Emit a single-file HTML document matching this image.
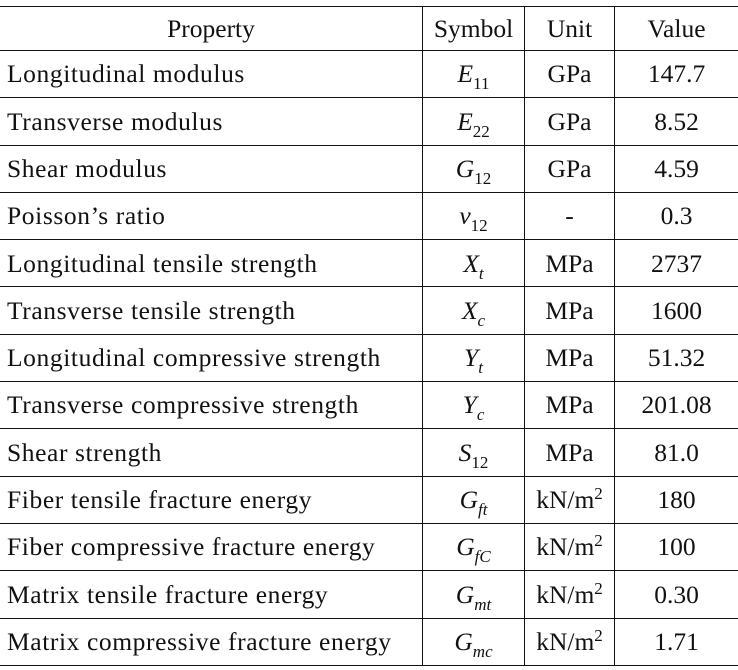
<!DOCTYPE html>
<html><head><style>
body{margin:0;background:#fff;width:738px;height:670px;overflow:hidden;font-family:"Liberation Serif",serif;color:#111}
table{position:absolute;top:6px;left:0;width:738px;border-collapse:collapse;font-size:25.5px}
td{border-top:1.5px solid #111;border-bottom:1.5px solid #111;height:46.3px;padding:0;text-align:center;line-height:1;white-space:nowrap}
td:first-child{text-align:left;padding-left:7px;width:415px;letter-spacing:0.6px}
td:nth-child(2){border-left:1.5px solid #111;border-right:1.5px solid #111;width:101px}
td:nth-child(3){border-right:1.5px solid #111;width:89px}
tr:first-child td{height:43px}
tr:first-child td:first-child{text-align:center;padding-left:0;letter-spacing:0}
i{font-style:italic}
sub{font-size:17px;vertical-align:-7px;line-height:0}
sup{font-size:17px;vertical-align:9px;line-height:0}
</style></head><body>
<table>
<tr><td>Property</td><td>Symbol</td><td>Unit</td><td>Value</td></tr>
<tr><td>Longitudinal modulus</td><td><i>E</i><sub>11</sub></td><td>GPa</td><td>147.7</td></tr>
<tr><td>Transverse modulus</td><td><i>E</i><sub>22</sub></td><td>GPa</td><td>8.52</td></tr>
<tr><td>Shear modulus</td><td><i>G</i><sub>12</sub></td><td>GPa</td><td>4.59</td></tr>
<tr><td>Poisson’s ratio</td><td><i>ν</i><sub>12</sub></td><td>-</td><td>0.3</td></tr>
<tr><td>Longitudinal tensile strength</td><td><i>X<sub>t</sub></i></td><td>MPa</td><td>2737</td></tr>
<tr><td>Transverse tensile strength</td><td><i>X<sub>c</sub></i></td><td>MPa</td><td>1600</td></tr>
<tr><td>Longitudinal compressive strength</td><td><i>Y<sub>t</sub></i></td><td>MPa</td><td>51.32</td></tr>
<tr><td>Transverse compressive strength</td><td><i>Y<sub>c</sub></i></td><td>MPa</td><td>201.08</td></tr>
<tr><td>Shear strength</td><td><i>S</i><sub>12</sub></td><td>MPa</td><td>81.0</td></tr>
<tr><td>Fiber tensile fracture energy</td><td><i>G<sub>ft</sub></i></td><td>kN/m<sup>2</sup></td><td>180</td></tr>
<tr><td>Fiber compressive fracture energy</td><td><i>G<sub>fC</sub></i></td><td>kN/m<sup>2</sup></td><td>100</td></tr>
<tr><td>Matrix tensile fracture energy</td><td><i>G<sub>mt</sub></i></td><td>kN/m<sup>2</sup></td><td>0.30</td></tr>
<tr><td>Matrix compressive fracture energy</td><td><i>G<sub>mc</sub></i></td><td>kN/m<sup>2</sup></td><td>1.71</td></tr>
</table>
</body></html>
